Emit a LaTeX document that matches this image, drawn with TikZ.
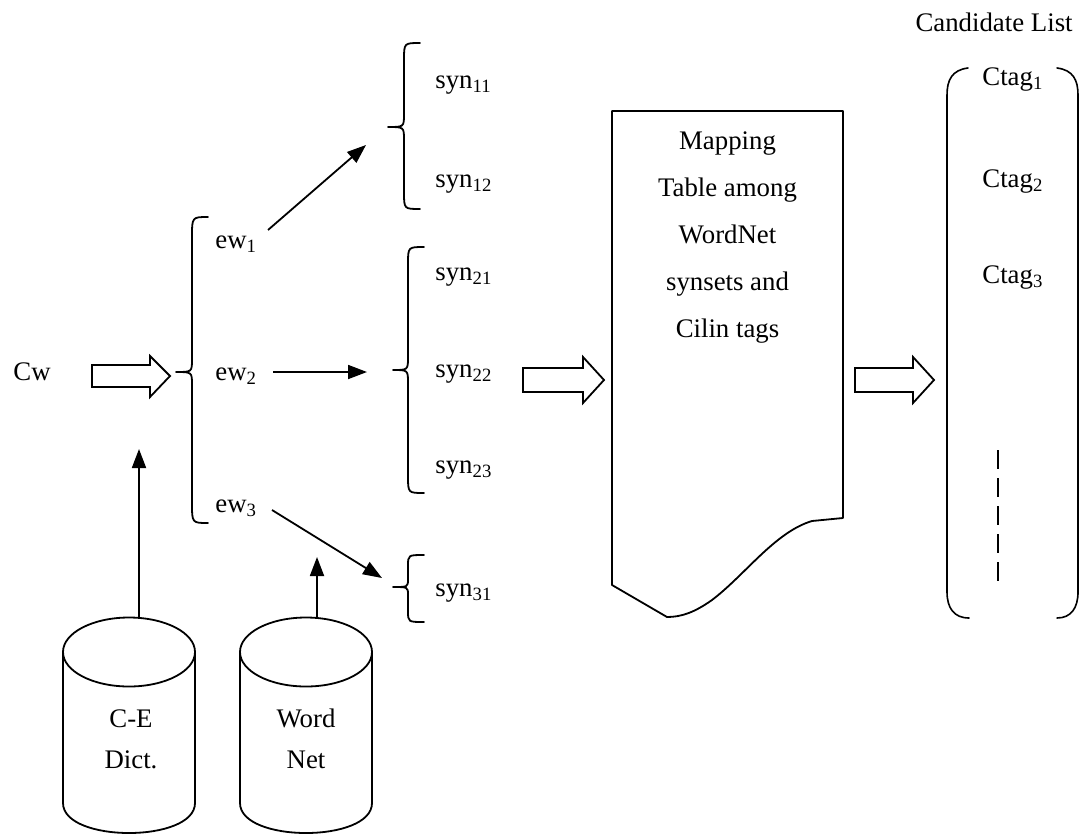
\documentclass[tikz,border=0pt]{standalone}
\usepackage{fontspec}
\setmainfont{Liberation Serif}
\usetikzlibrary{arrows.meta}
\newcommand{\mybrace}[8]{%
  \draw[ln] (#1,#2) .. controls (#3,#2) .. (#3,#2+#7) -- (#3,#5-#8)
    .. controls (#3,#5) .. (#4,#5) .. controls (#3,#5) .. (#3,#5+#8)
    -- (#3,#6-#7) .. controls (#3,#6) .. (#1,#6);}
\begin{document}
\begin{tikzpicture}[x=0.5pt,y=-0.5pt,
  txt/.style={inner sep=0pt, font=\fontsize{13.4}{16}\selectfont},
  lbl/.style={txt, anchor=base west},
  lblc/.style={txt, anchor=base},
  ln/.style={line width=0.9pt, line cap=round, line join=round},
  arr/.style={line width=0.9pt, -{Triangle[length=9.5pt,width=7pt]}},
  hollow/.style={draw, line width=0.9pt, fill=white, line join=miter}]
\useasboundingbox (0,0) rectangle (1085,835);

% ---------- labels ----------
\node[lbl] (cw) at (13,380) {Cw};
\node[lbl] (ew1) at (215,248) {ew\textsubscript{1}};
\node[lbl] (ew2) at (215,380) {ew\textsubscript{2}};
\node[lbl] (ew3) at (215,512) {ew\textsubscript{3}};
\node[lbl] (syn11) at (435,88) {syn\textsubscript{11}};
\node[lbl] (syn12) at (435,187) {syn\textsubscript{12}};
\node[lbl] (syn21) at (435,280) {syn\textsubscript{21}};
\node[lbl] (syn22) at (435,377) {syn\textsubscript{22}};
\node[lbl] (syn23) at (435,473) {syn\textsubscript{23}};
\node[lbl] (syn31) at (435,596) {syn\textsubscript{31}};
\node[txt, anchor=base east] (cand) at (1073,32) {Candidate List};
\node[lbl] (ctag1) at (982,85) {Ctag\textsubscript{1}};
\node[lbl] (ctag2) at (982,187) {Ctag\textsubscript{2}};
\node[lbl] (ctag3) at (982,283) {Ctag\textsubscript{3}};

% ---------- braces ----------
\mybrace{208}{217}{192}{176}{372}{523}{20}{13}
\mybrace{420}{43}{404}{388}{127}{209}{17}{13}
\mybrace{424}{247}{408}{393}{370}{493}{17}{13}
\mybrace{424}{555}{408}{393}{587}{622}{11}{8}

% ---------- mapping table (document shape) ----------
\draw[ln] (612,111) -- (843,111) -- (843,518) -- (812,521)
  .. controls (775,532) and (745,575) .. (712,600)
  .. controls (695,612) and (682,617) .. (667,617)
  -- (612,585) -- cycle;
\node[lblc] (map1) at (727.5,149) {Mapping};
\node[lblc] (map2) at (727.5,196) {Table among};
\node[lblc] (map3) at (727.5,243) {WordNet};
\node[lblc] (map4) at (727.5,290) {synsets and};
\node[lblc] (map5) at (727.5,337) {Cilin tags};

% ---------- candidate list bracket ----------
\draw[ln, line width=0.8pt] (968,68) .. controls (952,70) and (947,80) .. (947,95)
  -- (947,592) .. controls (947,608) and (954,618) .. (969,618);
\draw[ln, line width=0.8pt] (1057,68) .. controls (1073,70) and (1078,80) .. (1078,95)
  -- (1078,592) .. controls (1078,608) and (1071,618) .. (1057,618);
\coordinate (dotsTop) at (998,450);
\coordinate (dotsBot) at (998,584);
\draw[line width=0.8pt, dash pattern=on 9.5pt off 4.5pt] (dotsTop) -- (dotsBot);

% ---------- hollow arrows ----------
\draw[hollow] (92,365) -- (150,365) -- (150,356) -- (170,376) -- (150,397) -- (150,387) -- (92,387) -- cycle;
\draw[hollow] (523,368) -- (583,368) -- (583,357) -- (604,380) -- (583,403) -- (583,392) -- (523,392) -- cycle;
\draw[hollow] (855,368) -- (913,368) -- (913,357) -- (934,380) -- (913,403) -- (913,392) -- (855,392) -- cycle;

% ---------- cylinders ----------
\draw[ln] (129,652) ellipse [x radius=33pt, y radius=17.25pt];
\draw[ln] (63,652) -- (63,803) .. controls (63,843) and (195,843) .. (195,803) -- (195,652);
\node[lblc] (ce1) at (131,727) {C-E};
\node[lblc] (ce2) at (131,768) {Dict.};
\coordinate (ceTop) at (139,618);

\draw[ln] (306,652) ellipse [x radius=33pt, y radius=17.25pt];
\draw[ln] (240,652) -- (240,803) .. controls (240,843) and (372,843) .. (372,803) -- (372,652);
\node[lblc] (wn1) at (306,727) {Word};
\node[lblc] (wn2) at (306,768) {Net};
\coordinate (wnTop) at (317,618);

% ---------- connectors ----------
\coordinate (a1s) at (268,230);
\coordinate (a1e) at (366,145);
\coordinate (a2s) at (273,372);
\coordinate (a2e) at (367,372);
\coordinate (a3s) at (272,510);
\coordinate (a3e) at (382,578);
\coordinate (ceEnd) at (139,449);
\coordinate (wnEnd) at (317,557);
\draw[arr] (a1s) -- (a1e);
\draw[arr] (a2s) -- (a2e);
\draw[arr] (a3s) -- (a3e);
\draw[arr] (ceTop) -- (ceEnd);
\draw[arr] (wnTop) -- (wnEnd);
\end{tikzpicture}
\end{document}
